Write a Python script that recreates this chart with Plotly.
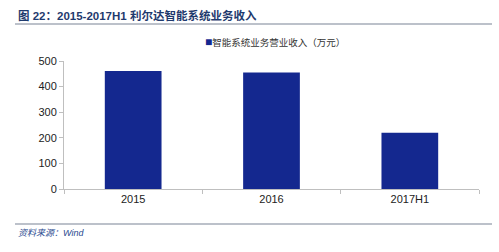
import plotly.graph_objects as go

categories = ["2015", "2016", "2017H1"]
revenue = [461, 455, 220]
series_name = "智能系统业务营业收入（万元）"
title_text = "图 22：2015-2017H1 利尔达智能系统业务收入"
source_text = "资料来源：Wind"

bar_color = "#14288f"
font_family = "Liberation Sans, Arial, Noto Sans CJK SC, sans-serif"

fig = go.Figure()
fig.add_trace(go.Bar(
    x=categories, y=revenue, name=series_name,
    marker=dict(color=bar_color, line=dict(width=0)),
    width=0.41, showlegend=False,
))

fig.update_layout(
    width=499, height=252,
    margin=dict(l=64, r=20, t=61, b=63),
    paper_bgcolor="white", plot_bgcolor="white",
    font=dict(family=font_family, size=11, color="#333333"),
    xaxis=dict(
        showline=True, linecolor="#bfbfbf", linewidth=1,
        ticks="outside", tickson="boundaries", ticklen=4, tickcolor="#bfbfbf",
        showgrid=False, tickfont=dict(size=11, color="#222222"),
    ),
    yaxis=dict(
        range=[0, 500], dtick=100,
        showline=True, linecolor="#bfbfbf", linewidth=1,
        ticks="outside", ticklen=4, tickcolor="#bfbfbf",
        showgrid=False, zeroline=False,
        tickfont=dict(size=11, color="#222222"),
    ),
    shapes=[
        dict(type="line", xref="paper", yref="paper",
             x0=-49/415, x1=428/415, y0=(189-24)/128, y1=(189-24)/128,
             line=dict(color="#a6acb8", width=1.5)),
        dict(type="line", xref="paper", yref="paper",
             x0=-49/415, x1=428/415, y0=(189-224)/128, y1=(189-224)/128,
             line=dict(color="#a6acb8", width=1.5)),
    ],
    annotations=[
        dict(text="<b>" + title_text + "</b>", xref="paper", yref="paper",
             x=-48/415, y=(189-15)/128, xanchor="left", yanchor="middle",
             showarrow=False, font=dict(size=11.5, color="#1f3a6e")),
        dict(text="<span style='color:" + bar_color + ";font-size:12px'>■</span>" + series_name,
             xref="paper", yref="paper",
             x=(203-64)/415, y=(189-42)/128, xanchor="left", yanchor="middle",
             showarrow=False, font=dict(size=9.5, color="#333333")),
        dict(text="<i>" + source_text + "</i>", xref="paper", yref="paper",
             x=-48/415, y=(189-233)/128, xanchor="left", yanchor="middle",
             showarrow=False, font=dict(size=9, color="#2a4a8f")),
    ],
)

fig.write_html("out.html")
